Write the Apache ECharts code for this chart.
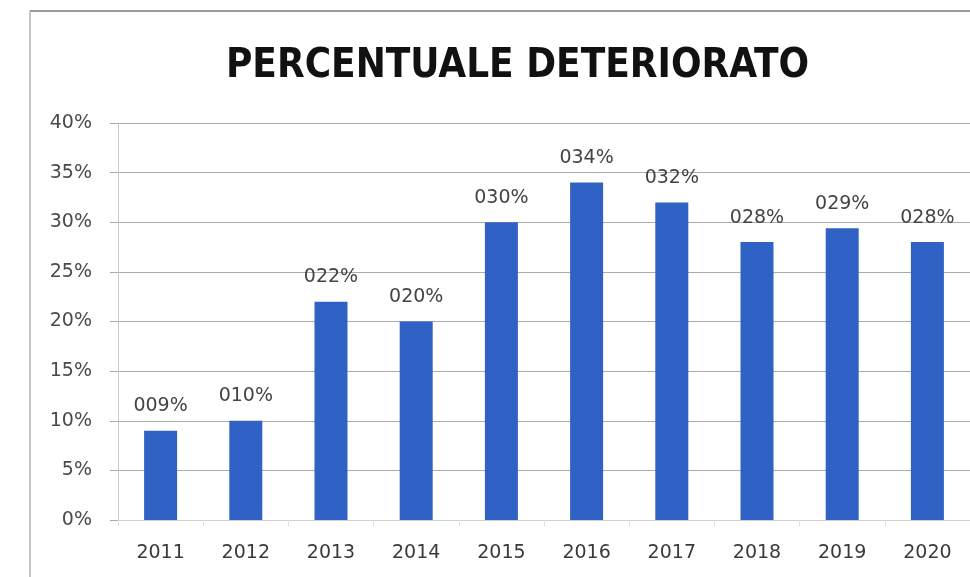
<!DOCTYPE html>
<html><head><meta charset="utf-8">
<script src="https://cdn.jsdelivr.net/npm/echarts@6/dist/echarts.min.js"></script>
<style>html,body{margin:0;padding:0;background:#fff}#c{width:970px;height:577px}</style>
</head><body><div id="c"></div>
<script>
const titleText = 'PERCENTUALE DETERIORATO';
const years = ['2011','2012','2013','2014','2015','2016','2017','2018','2019','2020'];
const values = [9, 10, 22, 20, 30, 34, 32, 28, 29.4, 28];
const yTicks = [0, 5, 10, 15, 20, 25, 30, 35, 40];

const chart = echarts.init(document.getElementById('c'), null, {renderer:'canvas'});
chart.setOption({
  backgroundColor:'#fff',
  animation:false,
  title:{
    text:titleText, left:221, top:42,
    textStyle:{fontFamily:'DejaVu Sans Condensed', fontWeight:'bold', fontSize:40, color:'#111'}
  },
  graphic:[
    {type:'line', shape:{x1:30,y1:11,x2:970,y2:11}, style:{stroke:'#9a9a9a', lineWidth:2}},
    {type:'line', shape:{x1:30,y1:11,x2:30,y2:577}, style:{stroke:'#b0b0b0', lineWidth:1.5}}
  ],
  grid:{left:118, top:123, width:854, bottom:57},
  xAxis:{
    type:'category', data:years,
    axisLine:{lineStyle:{color:'#d0d0d0'}},
    axisTick:{show:true, length:6, lineStyle:{color:'#e0e0e0'}},
    axisLabel:{color:'#3a3a3a', fontSize:19, margin:24, fontFamily:'DejaVu Sans'}
  },
  yAxis:{
    type:'value', min:yTicks[0], max:yTicks[yTicks.length-1], interval:5,
    axisLine:{show:true, lineStyle:{color:'#c8c8c8'}},
    axisTick:{show:true, length:8, lineStyle:{color:'#aaa'}},
    splitLine:{lineStyle:{color:'#aaaaaa'}},
    axisLabel:{color:'#4a4a4a', fontSize:19, margin:26, fontFamily:'DejaVu Sans', formatter:v=>v+'%'}
  },
  series:[{
    type:'bar', data:values, barWidth:33,
    itemStyle:{color:'#2f62c4'},
    label:{show:true, position:'top', distance:15, color:'#444', fontSize:19, fontFamily:'DejaVu Sans',
      formatter:p=>String(Math.round(p.value)).padStart(3,'0')+'%'}
  }]
});
</script></body></html>
